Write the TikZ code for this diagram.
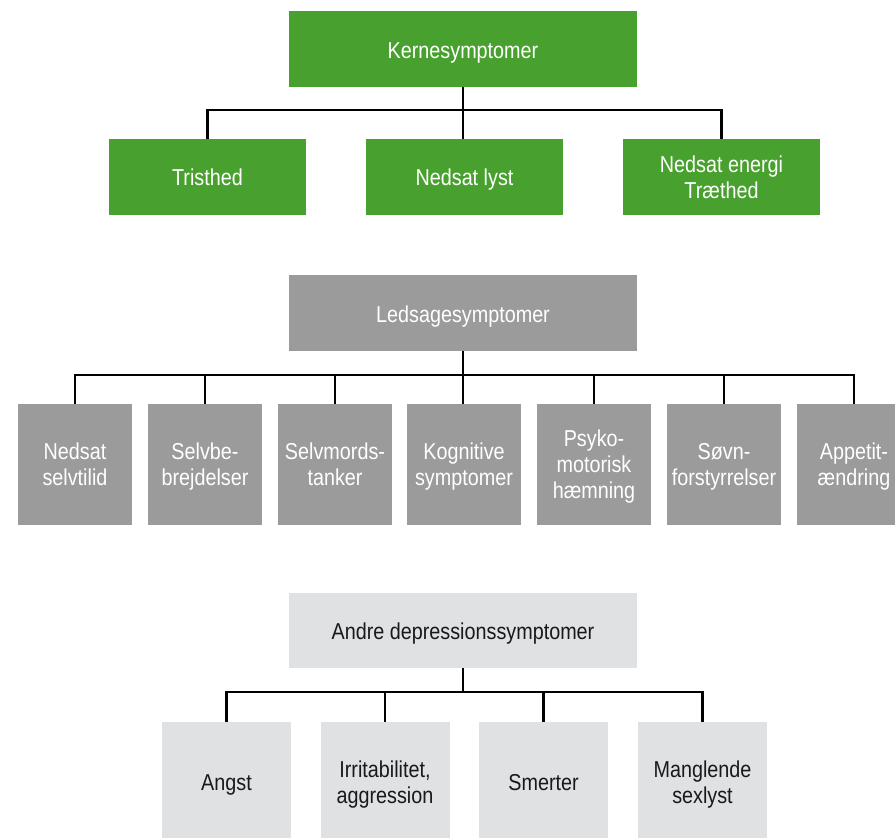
\documentclass[tikz,border=0pt]{standalone}
\usepackage{fontspec}
\setmainfont{Liberation Sans}[FakeStretch=0.86]
\definecolor{kgreen}{RGB}{72,161,46}
\definecolor{kgray}{RGB}{155,155,155}
\definecolor{klight}{RGB}{224,225,227}
\definecolor{ktext}{RGB}{25,25,25}
\newcommand{\boxtxt}[2][0pt]{\raisebox{-#1}[\height][\depth]{\begin{tabular}{@{}c@{}}#2\end{tabular}}}
\begin{document}
\begin{tikzpicture}[x=1pt,y=-1pt,
  basebox/.style={inner sep=0pt, font=\fontsize{23}{26}\selectfont},
  gbox/.style={basebox, fill=kgreen, text=white},
  mbox/.style={basebox, fill=kgray, text=white},
  lbox/.style={basebox, fill=klight, text=ktext},
  conn/.style={line width=2.5pt, black}]
\useasboundingbox (0,0) rectangle (895,838);
\clip (0,0) rectangle (895,838);
% level 1
\node[gbox, minimum width=348pt, minimum height=76pt] (k) at (463,49) {\boxtxt[4pt]{Kernesymptomer}};
\node[gbox, minimum width=197pt, minimum height=76pt] (t1) at (207.5,177) {\boxtxt[3pt]{Tristhed}};
\node[gbox, minimum width=197pt, minimum height=76pt] (t2) at (464.5,177) {\boxtxt[3pt]{Nedsat lyst}};
\node[gbox, minimum width=197pt, minimum height=76pt] (t3) at (721.5,177) {\boxtxt[3pt]{Nedsat energi\\Træthed}};
\draw[conn] (k.south) -- (k.south |- t2.north);
\draw[conn] (t1.north) -- ++(0,-29) -| (t3.north);
% level 2
\node[mbox, minimum width=348pt, minimum height=76pt] (l) at (463,313) {\boxtxt[4pt]{Ledsagesymptomer}};
\foreach \x/\n/\t in {75/r1/{Nedsat\\selvtilid}, 205/r2/{Selvbe-\\brejdelser}, 335/r3/{Selvmords-\\tanker}, 464/r4/{Kognitive\\symptomer}, 594/r5/{Psyko-\\motorisk\\hæmning}, 724/r6/{Søvn-\\forstyrrelser}, 854/r7/{Appetit-\\ændring}}
  \node[mbox, minimum width=114pt, minimum height=121pt] (\n) at (\x,464.5) {\boxtxt[3pt]{\t}};
\draw[conn] (l.south) -- (l.south |- r4.north);
\draw[conn] (r1.north) -- ++(0,-29) -| (r7.north);
\foreach \n in {r2,r3,r5,r6} \draw[conn] (\n.north) -- ++(0,-29);
% level 3
\node[lbox, minimum width=348pt, minimum height=75pt] (a) at (463,630.5) {\boxtxt[4pt]{Andre depressionssymptomer}};
\node[lbox, minimum width=129pt, minimum height=116pt] (b1) at (226.5,780) {\boxtxt[5pt]{Angst}};
\node[lbox, minimum width=129pt, minimum height=116pt] (b2) at (385,780) {\boxtxt[5pt]{Irritabilitet,\\aggression}};
\node[lbox, minimum width=129pt, minimum height=116pt] (b3) at (543.5,780) {\boxtxt[5pt]{Smerter}};
\node[lbox, minimum width=129pt, minimum height=116pt] (b4) at (702.5,780) {\boxtxt[5pt]{Manglende\\sexlyst}};
\draw[conn] (a.south) -- ++(0,24);
\draw[conn] (b1.north) -- ++(0,-30) -| (b4.north);
\draw[conn] (b2.north) -- ++(0,-30);
\draw[conn] (b3.north) -- ++(0,-30);
\end{tikzpicture}
\end{document}
